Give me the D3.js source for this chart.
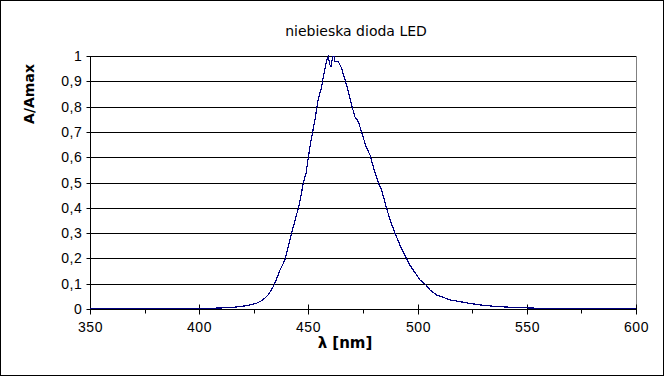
<!DOCTYPE html>
<html lang="pl">
<head>
  <meta charset="UTF-8">
  <title>niebieska dioda LED</title>
  <style>
    body { margin: 0; background: #fff; }
    svg { display: block; font-family: "DejaVu Sans", sans-serif; }
    .tick text { font-size: 14px; fill: #000; letter-spacing: 0.6px; }
  </style>
</head>
<body>
  <div id="chart"></div>
  <script src="https://d3js.org/d3.v7.min.js"></script>
  <script>
    // wavelength [nm] and normalised absorbance
    const wavelengths = [350, 360, 370, 380, 390, 400, 405, 410, 414, 417, 420, 423, 426, 428, 430,
      431.5, 433, 434.3, 435.5, 437, 438.2, 439.3, 440.8, 442.3, 443.9, 445.4, 446.2, 447.7, 448.9,
      450, 450.7, 451.9, 453, 453.8, 454.6, 456.1, 456.8, 457.6, 458.4, 459.1, 459.9, 460.3, 461.1,
      461.7, 462.2, 463.7, 464.5, 465.2, 466.8, 468.3, 469.8, 471.3, 472.9, 474.4, 476.4, 478.2,
      479.7, 482, 483.5, 485.8, 487.4, 489.7, 491.9, 494.2, 496, 498, 501.1, 503.4, 505.7, 508.7,
      511.8, 514.8, 519.4, 524, 528.6, 533.2, 540, 548, 555, 565, 580, 600];
    const absorbance = [0.002, 0.002, 0.001, 0.002, 0.002, 0.002, 0.003, 0.004, 0.006, 0.008, 0.011,
      0.016, 0.022, 0.030, 0.042, 0.055, 0.075, 0.095, 0.120, 0.154, 0.175, 0.196, 0.246, 0.299,
      0.352, 0.398, 0.431, 0.499, 0.536, 0.600, 0.642, 0.698, 0.747, 0.793, 0.833, 0.879, 0.918,
      0.951, 0.984, 0.997, 0.964, 0.958, 0.997, 1.000, 0.977, 0.977, 0.964, 0.951, 0.905, 0.859,
      0.806, 0.760, 0.740, 0.698, 0.642, 0.609, 0.562, 0.499, 0.470, 0.398, 0.352, 0.299, 0.253,
      0.213, 0.180, 0.154, 0.115, 0.099, 0.075, 0.055, 0.046, 0.036, 0.029, 0.022, 0.016, 0.012,
      0.008, 0.005, 0.003, 0.002, 0.002, 0.002];
    const xTicks = [350, 400, 450, 500, 550, 600];
    const xMinorTicks = [375, 425, 475, 525, 575];
    const yTicks = [0, 0.1, 0.2, 0.3, 0.4, 0.5, 0.6, 0.7, 0.8, 0.9, 1];

    const W = 664, H = 376;
    const plotLeft = 90, plotRight = 636, plotTop = 56, plotBottom = 309;

    const x = d3.scaleLinear().domain([350, 600]).range([plotLeft, plotRight]);
    const y = d3.scaleLinear().domain([0, 1]).range([plotBottom, plotTop]);
    const fmt = d => d3.format(".1~f")(d).replace(".", ",");

    const svg = d3.select('#chart').append('svg')
      .attr('width', W)
      .attr('height', H);

    // outer frame
    svg.append('rect')
      .attr('x', 0.5).attr('y', 0.5)
      .attr('width', W - 1).attr('height', H - 1)
      .attr('fill', '#fff').attr('stroke', '#000');

    // horizontal grid
    svg.append('g')
      .attr('shape-rendering', 'crispEdges')
      .selectAll('line')
      .data(yTicks.slice(1))
      .join('line')
        .attr('x1', plotLeft).attr('x2', plotRight)
        .attr('y1', d => Math.round(y(d)) + 0.5)
        .attr('y2', d => Math.round(y(d)) + 0.5)
        .attr('stroke', '#000');

    // right border of the plot area
    svg.append('line')
      .attr('x1', plotRight + 0.5).attr('x2', plotRight + 0.5)
      .attr('y1', plotTop).attr('y2', plotBottom)
      .attr('stroke', '#808080');

    // y axis
    const yAxis = svg.append('g')
      .attr('transform', `translate(${plotLeft + 0.5},0.5)`)
      .call(d3.axisLeft(y).tickValues(yTicks).tickFormat(fmt).tickSize(4).tickPadding(4).offset(0));
    yAxis.select('.domain').remove();
    yAxis.selectAll('.tick line').attr('x1', -4).attr('x2', 4);
    yAxis.selectAll('.tick').attr('transform', d => `translate(0,${Math.round(y(d))})`);
    svg.append('line')
      .attr('x1', plotLeft + 0.5).attr('x2', plotLeft + 0.5)
      .attr('y1', plotTop).attr('y2', plotBottom + 1)
      .attr('stroke', '#000');

    // x axis
    const xAxis = svg.append('g')
      .attr('transform', `translate(0.5,${plotBottom + 0.5})`)
      .call(d3.axisBottom(x).tickValues(xTicks).tickFormat(d3.format('d')).tickSize(5).tickPadding(8).offset(0));
    xAxis.select('.domain').remove();
    xAxis.selectAll('.tick line').attr('y1', -5).attr('y2', 5);
    xAxis.selectAll('.tick').attr('transform', d => `translate(${Math.round(x(d))},0)`);
    xAxis.append('g')
      .selectAll('line')
      .data(xMinorTicks)
      .join('line')
        .attr('x1', d => Math.round(x(d))).attr('x2', d => Math.round(x(d)))
        .attr('y1', 0).attr('y2', 4)
        .attr('stroke', '#000');
    svg.append('line')
      .attr('x1', plotLeft).attr('x2', plotRight + 1)
      .attr('y1', plotBottom + 0.5).attr('y2', plotBottom + 0.5)
      .attr('stroke', '#000');

    // spectrum
    const pts = wavelengths.map((w, i) => [w, absorbance[i]]);
    svg.append('path')
      .datum(pts)
      .attr('fill', 'none')
      .attr('stroke', '#000080')
      .attr('stroke-width', 1.2)
      .attr('shape-rendering', 'crispEdges')
      .attr('d', d3.line().x(d => x(d[0])).y(d => y(d[1])));

    // titles
    svg.append('text')
      .attr('x', 356).attr('y', 36)
      .attr('text-anchor', 'middle')
      .attr('font-size', 14)
      .text('niebieska dioda LED');

    svg.append('text')
      .attr('x', 345).attr('y', 348)
      .attr('text-anchor', 'middle')
      .attr('font-size', 15)
      .attr('font-weight', 'bold')
      .text('λ [nm]');

    svg.append('text')
      .attr('transform', 'translate(34,94) rotate(-90)')
      .attr('text-anchor', 'middle')
      .attr('font-size', 14)
      .attr('font-weight', 'bold')
      .text('A/Amax');
  </script>
</body>
</html>
